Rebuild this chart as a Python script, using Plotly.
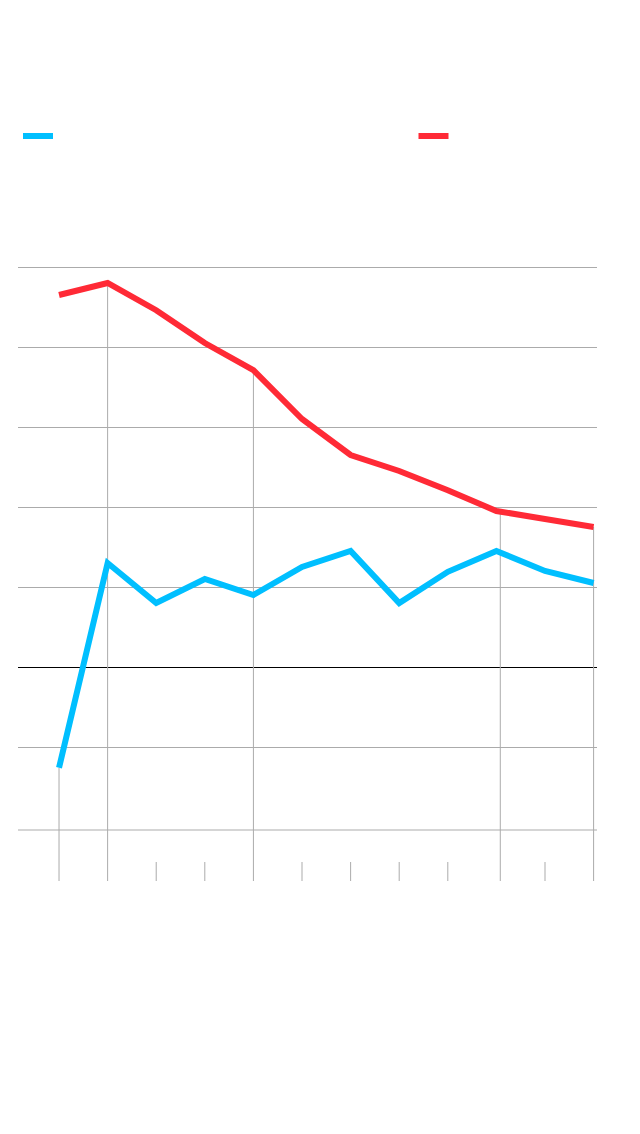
import plotly.graph_objects as go

# ---- data (gridline step = 10 units) ----
periods = list(range(12))
blue_values = [-12.6, 13.0, 8.0, 11.0, 9.0, 12.5, 14.5, 8.0, 11.9, 14.5, 12.0, 10.5]
red_values = [46.5, 48.0, 44.6, 40.5, 37.1, 31.0, 26.5, 24.5, 22.1, 19.5, 18.5, 17.5]
blue_name = " "
red_name = " "

# vertical markers: which period, and which series the drop line starts from
drop_periods = [0, 1, 4, 9, 11]
drop_from = ["blue", "red", "red", "red", "red"]
drop_offset = [0, 0, 0, 0.08, 0]
tick_periods = [2, 3, 5, 6, 7, 8, 10]

grid_values = [-10, 10, 20, 30, 40, 50]
floor_value = -20.375
y_min, y_max = -26.75, 50.5
tick_top = -24.375
x_min, x_max = -0.844, 11.07

BLUE = "#00bfff"
RED = "#ff2a36"
GRID = "#ababab"

W, H = 632, 1126  # page has an 8px body offset

fig = go.Figure()

# drop lines and short ticks built from the arrays
dx, dy = [], []
for p, src, off in zip(drop_periods, drop_from, drop_offset):
    v = blue_values[p] if src == "blue" else red_values[p]
    dx += [p + off, p + off, None]
    dy += [v, y_min, None]
for p in tick_periods:
    dx += [p, p, None]
    dy += [tick_top, y_min, None]
fig.add_trace(go.Scatter(x=dx, y=dy, mode="lines", line=dict(color=GRID, width=1),
                         showlegend=False, hoverinfo="skip"))

# floor line
fig.add_trace(go.Scatter(x=[x_min, x_max], y=[floor_value, floor_value], mode="lines",
                         line=dict(color=GRID, width=1), showlegend=False, hoverinfo="skip"))

fig.add_trace(go.Scatter(x=periods, y=blue_values, mode="lines", name=blue_name,
                         line=dict(color=BLUE, width=6), legend="legend"))
fig.add_trace(go.Scatter(x=periods, y=red_values, mode="lines", name=red_name,
                         line=dict(color=RED, width=6), legend="legend2"))

fig.update_layout(
    width=W, height=H,
    margin=dict(l=10, r=43, t=255, b=253),
    paper_bgcolor="white", plot_bgcolor="white",
    xaxis=dict(range=[x_min, x_max], showgrid=False, zeroline=False,
               showticklabels=False, ticks="", showline=False, fixedrange=True),
    yaxis=dict(range=[y_min, y_max], tickvals=grid_values, showgrid=True,
               gridcolor=GRID, gridwidth=1, zeroline=True, zerolinecolor="black",
               zerolinewidth=1, showticklabels=False, ticks="", showline=False),
    legend=dict(xref="container", yref="container", x=10 / W, y=1 - 128 / H,
                xanchor="left", yanchor="middle", orientation="h",
                bgcolor="rgba(0,0,0,0)", font=dict(size=12)),
    legend2=dict(xref="container", yref="container", x=405.5 / W, y=1 - 128 / H,
                 xanchor="left", yanchor="middle", orientation="h",
                 bgcolor="rgba(0,0,0,0)", font=dict(size=12)),
    showlegend=True,
)

fig.write_html("out.html")
